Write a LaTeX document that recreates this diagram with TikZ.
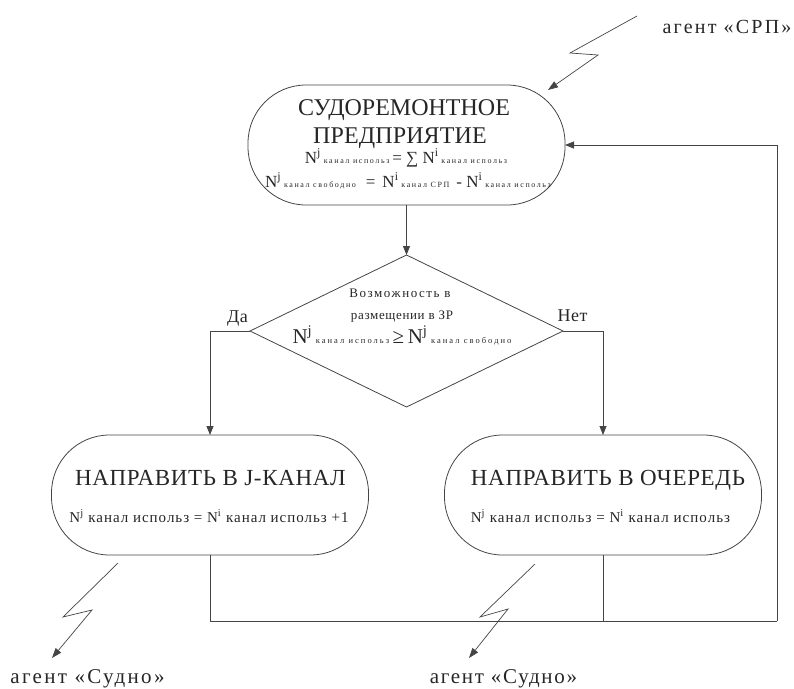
\documentclass[tikz,border=0pt]{standalone}
\usepackage{fontspec}
\setmainfont{Liberation Serif}
\usetikzlibrary{arrows.meta,shapes.geometric}
\definecolor{lc}{HTML}{454545}
\definecolor{tc}{HTML}{262626}
\newcommand{\fs}[2]{\fontsize{#1}{#1}\selectfont\addfontfeatures{LetterSpace=#2}}
\newcommand{\sbs}[1]{{\fontsize{8}{8}\selectfont\addfontfeatures{LetterSpace=20}#1}}
\newcommand{\sbd}[1]{{\fontsize{8.5}{8.5}\selectfont\addfontfeatures{LetterSpace=24}#1}}
\begin{document}
\begin{tikzpicture}[x=1pt,y=-1pt,
  line width=0.8pt,
  every node/.style={text=tc, inner sep=0pt, outer sep=0pt},
  stad/.style={draw=lc, rectangle, rounded corners=58pt, minimum width=317pt, minimum height=120pt},
  dec/.style={draw=lc, diamond, minimum width=313pt, minimum height=152pt},
  flow/.style={draw=lc, -{Triangle[length=9pt,width=7pt]}},
  bolt/.style={draw=lc, line width=0.7pt, -{Triangle[length=10pt,width=7pt]}},
  txt/.style={anchor=base}
]
\useasboundingbox (0,0) rectangle (794,688);

% top terminal
\node[stad] (srp) at (406.5,145) {};
\node[txt] (srpt1) at (404,115) {\fs{24}{0}СУДОРЕМОНТНОЕ};
\node[txt] (srpt2) at (400,143) {\fs{24}{0.5}ПРЕДПРИЯТИЕ};
\node[txt] (srpf1) at (406,163) {\fs{17}{0}N\textsuperscript{j}\,\sbs{канал использ}\,= ∑ N\textsuperscript{i}\,\sbs{канал использ}};
\node[txt] (srpf2) at (408,187) {\fs{17}{0}N\textsuperscript{j}\,\sbs{канал свободно}\, \,=\, N\textsuperscript{i}\,\sbs{канал СРП}\, - N\textsuperscript{i}\,\sbs{канал использ}};

% decision
\node[dec] (dia) at (406.5,331) {};
\node[txt] (dt1) at (400,297) {\fs{13}{12}Возможность в};
\node[txt] (dt2) at (402,319) {\fs{13}{5}размещении в ЗР};
\node[txt] (dt3) at (402,343) {\fs{21}{0}N\textsuperscript{j}\,\sbd{канал использ}\,≥\,N\textsuperscript{j}\,\sbd{канал свободно}};
\node[txt] (lda) at (237.5,322) {\fs{18}{3}Да};
\node[txt] (lnet) at (572.5,321) {\fs{18}{3}Нет};

% left and right terminals
\node[stad] (dir) at (210,495) {};
\node[txt] (dirt) at (210.5,485) {\fs{23}{3}НАПРАВИТЬ В J-КАНАЛ};
\node[txt] (dirf) at (209,522) {\fs{15}{6.5}N\textsuperscript{j} канал использ = N\textsuperscript{i} канал использ +1};
\node[stad] (que) at (603,495) {};
\node[txt] (quet) at (608,485) {\fs{23}{3}НАПРАВИТЬ В ОЧЕРЕДЬ};
\node[txt] (quef) at (600.5,522) {\fs{15}{7}N\textsuperscript{j} канал использ = N\textsuperscript{i} канал использ};

% agent labels
\node[txt] (asrp) at (727,33) {\fs{20}{11}агент «СРП»};
\node[txt] (as1) at (87.5,683) {\fs{21}{11}агент «Судно»};
\node[txt] (as2) at (503.5,683) {\fs{21}{8}агент «Судно»};

% connectors
\draw[flow] (srp.south) -- (dia.north);
\draw[flow] (dia.west) -| (dir.north);
\draw[flow] (dia.east) -| (que.north);
\coordinate (jl) at (210,621);
\coordinate (jr) at (777,621);
\draw[draw=lc] (dir.south) -- (jl) -- (jr);
\draw[draw=lc] (que.south) -- (que.south |- jl);
\draw[flow] (jr) |- (srp.east);

% lightning arrows
\coordinate (b1s) at (637,16);
\coordinate (b1a) at (570,53);
\coordinate (b1b) at (598,55);
\coordinate (b1e) at (548,90);
\draw[bolt] (b1s) -- (b1a) -- (b1b) -- (b1e);
\coordinate (b2s) at (118,563);
\coordinate (b2a) at (63,617);
\coordinate (b2b) at (92,610);
\coordinate (b2e) at (52,658);
\draw[bolt] (b2s) -- (b2a) -- (b2b) -- (b2e);
\coordinate (b3s) at (535,564);
\coordinate (b3a) at (480,617);
\coordinate (b3b) at (508,609);
\coordinate (b3e) at (469,658);
\draw[bolt] (b3s) -- (b3a) -- (b3b) -- (b3e);
\end{tikzpicture}
\end{document}
